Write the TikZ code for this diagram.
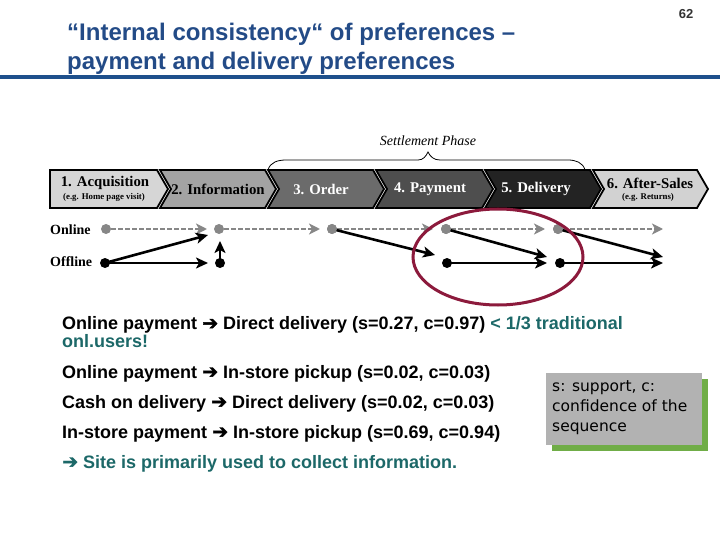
\documentclass[tikz,border=0pt]{standalone}
\usepackage{fontspec}
\setmainfont{Liberation Sans}
\newfontfamily\seriff{Liberation Serif}
\newfontfamily\arrowfont{DejaVu Sans}[FakeBold=2]
\newfontfamily\boxfont{DejaVu Sans}
\usetikzlibrary{arrows.meta}
\definecolor{titleblue}{RGB}{35,75,135}
\definecolor{lineblue}{RGB}{30,80,140}
\definecolor{teal2}{RGB}{28,104,104}
\definecolor{maroon2}{RGB}{140,26,60}
\definecolor{boxgray}{RGB}{178,178,178}
\definecolor{boxgreen}{RGB}{112,173,71}
\definecolor{dotgray}{RGB}{135,135,135}
\definecolor{c1}{RGB}{214,214,214}
\definecolor{c2}{RGB}{163,163,163}
\definecolor{c3}{RGB}{107,107,107}
\definecolor{c4}{RGB}{78,78,78}
\definecolor{c5}{RGB}{35,35,35}
\definecolor{c6}{RGB}{210,210,210}
\newcommand{\ar}{{\arrowfont\fontsize{19}{19}\selectfont ➔}}
\tikzset{
  chev/.style={draw=black, line width=1.8pt, line join=miter},
  chevtext/.style={font=\seriff\bfseries\fontsize{14.8}{14.8}\selectfont, inner sep=0pt},
  chevsub/.style={font=\seriff\bfseries\fontsize{8.8}{9}\selectfont, inner sep=0pt},
  ondot/.style={circle, fill=dotgray, minimum size=10pt, inner sep=0pt},
  offdot/.style={circle, fill=black, minimum size=10pt, inner sep=0pt},
  dotarrow/.style={draw=dotgray, line width=2.8pt, dash pattern=on 5pt off 2pt, -{Stealth[length=11pt,width=11pt,inset=3pt,fill=dotgray,sep=0pt]}},
  blackarrow/.style={draw=black, line width=2.6pt, -{Stealth[length=12pt,width=11pt,inset=3pt]}},
  bodytext/.style={font=\bfseries\fontsize{18}{18}\selectfont, inner sep=0pt, anchor=base west},
  rowlabel/.style={font=\seriff\bfseries\fontsize{14}{14}\selectfont, inner sep=0pt, anchor=west},
  titletext/.style={font=\bfseries\fontsize{24}{24}\selectfont, text=titleblue, anchor=base west, inner sep=0pt},
  legendtext/.style={font=\boxfont\fontsize{15.5}{15.5}\selectfont, anchor=base west, inner sep=0pt},
}
\begin{document}
\begin{tikzpicture}[x=1pt,y=-1pt]
\useasboundingbox (0,0) rectangle (720,540);
% title
\node[titletext] (title1) at (67,41) {“Internal consistency“ of preferences –};
\node[titletext] (title2) at (67,70) {payment and delivery preferences};
\node[font=\bfseries\fontsize{13}{13}\selectfont, text=black!80, inner sep=0pt] (pnum) at (686,14) {62};
\draw[lineblue, line width=4pt] (0,77) -- (720,77);

% chevrons
\def\ya{170}\def\yb{208}\def\ym{189}
\draw[chev, fill=c1] (50,\ya) -- (157,\ya) -- (168,\ym) -- (157,\yb) -- (50,\yb) -- cycle;
\draw[chev, fill=c2] (160,\ya) -- (265,\ya) -- (276,\ym) -- (265,\yb) -- (160,\yb) -- (171,\ym) -- cycle;
\draw[chev, fill=c3] (268,\ya) -- (373,\ya) -- (384,\ym) -- (373,\yb) -- (268,\yb) -- (279,\ym) -- cycle;
\draw[chev, fill=c4] (376,\ya) -- (482,\ya) -- (493,\ym) -- (482,\yb) -- (376,\yb) -- (387,\ym) -- cycle;
\draw[chev, fill=c5] (485,\ya) -- (590,\ya) -- (601,\ym) -- (590,\yb) -- (485,\yb) -- (496,\ym) -- cycle;
\draw[chev, fill=c6] (593,\ya) -- (697,\ya) -- (708,\ym) -- (697,\yb) -- (593,\yb) -- (604,\ym) -- cycle;
\node[chevtext] (t1) at (105,183) {1. Acquisition};
\node[chevsub] (t1s) at (104,197) {(e.g. Home page visit)};
\node[chevtext] (t2) at (218,189) {2. Information};
\node[chevtext, text=white] (t3) at (321,189) {3. Order};
\node[chevtext, text=white] (t4) at (430,189) {4. Payment};
\node[chevtext, text=white] (t5) at (536,189) {5. Delivery};
\node[chevtext] (t6) at (650,183) {6. After-Sales};
\node[chevsub] (t6s) at (648,197) {(e.g. Returns)};

% settlement brace
\draw[line width=0.8pt] (268,170) to[out=75,in=180] (286,160) -- (418,160) to[out=0,in=-115] (428,152) to[out=-65,in=180] (440,160) -- (568,160) to[out=0,in=105] (585,170);
\node[font=\seriff\itshape\fontsize{14}{14}\selectfont, inner sep=0pt] (settle) at (428,141) {Settlement Phase};

% row labels
\node[rowlabel] (online) at (50,230) {Online};
\node[rowlabel] (offline) at (50,262) {Offline};

% dots
\node[ondot] (on1) at (106,229) {};
\node[ondot] (on2) at (219,229) {};
\node[ondot] (on3) at (332,229) {};
\node[ondot] (on4) at (446,229) {};
\node[ondot] (on5) at (558,229) {};
\node[offdot] (off1) at (105,263) {};
\node[offdot] (off2) at (220,263) {};
\node[offdot] (off3) at (447,263) {};
\node[offdot] (off4) at (560,263) {};
\coordinate (e1) at (207,229);
\coordinate (e2) at (320,229);
\coordinate (e3) at (433,229);
\coordinate (e4) at (545,229);
\coordinate (e5) at (663,229);
\coordinate (b1) at (208,235);
\coordinate (b2) at (208,263);
\coordinate (b3) at (220,241);
\coordinate (b4) at (435,255);
\coordinate (b5) at (547,257);
\coordinate (b6) at (547,263);
\coordinate (b7) at (663,257);
\coordinate (b8) at (663,263);

% dotted online arrows
\draw[dotarrow] (on1) -- (e1);
\draw[dotarrow] (on2) -- (e2);
\draw[dotarrow] (on3) -- (e3);
\draw[dotarrow] (on4) -- (e4);
\draw[dotarrow] (on5) -- (e5);
% black arrows
\draw[blackarrow] (off1.center) -- (b1);
\draw[blackarrow] (off1.center) -- (b2);
\draw[blackarrow] (off2.center) -- (b3);
\draw[blackarrow] (on3.center) -- (b4);
\draw[blackarrow] (on4.center) -- (b5);
\draw[blackarrow] (off3.center) -- (b6);
\draw[blackarrow] (on5.center) -- (b7);
\draw[blackarrow] (off4.center) -- (b8);
\node[ondot] at (on3) {};
\node[ondot] at (on4) {};
\node[ondot] at (on5) {};

% ellipse
\draw[maroon2, line width=3pt] (498,257) ellipse [x radius=85, y radius=48];

% text block
\node[bodytext] (l1) at (62,329.5) {Online payment \ar\ Direct delivery (s=0.27, c=0.97) \textcolor{teal2}{< 1/3 traditional}};
\node[bodytext, text=teal2] (l2) at (62,347) {onl.users!};
\node[bodytext] (l3) at (62,378) {Online payment \ar\ In-store pickup (s=0.02, c=0.03)};
\node[bodytext] (l4) at (62,408) {Cash on delivery \ar\ Direct delivery (s=0.02, c=0.03)};
\node[bodytext] (l5) at (62,438) {In-store payment \ar\ In-store pickup (s=0.69, c=0.94)};
\node[bodytext, text=teal2] (l6) at (62,468) {\ar\ Site is primarily used to collect information.};

% legend box
\fill[boxgreen] (552,379) rectangle (708,451);
\fill[boxgray] (546,373) rectangle (702,445);
\node[legendtext] (leg1) at (552,391) {s: support, c:};
\node[legendtext] (leg2) at (552,411) {confidence of the};
\node[legendtext] (leg3) at (552,431) {sequence};
\end{tikzpicture}
\end{document}
